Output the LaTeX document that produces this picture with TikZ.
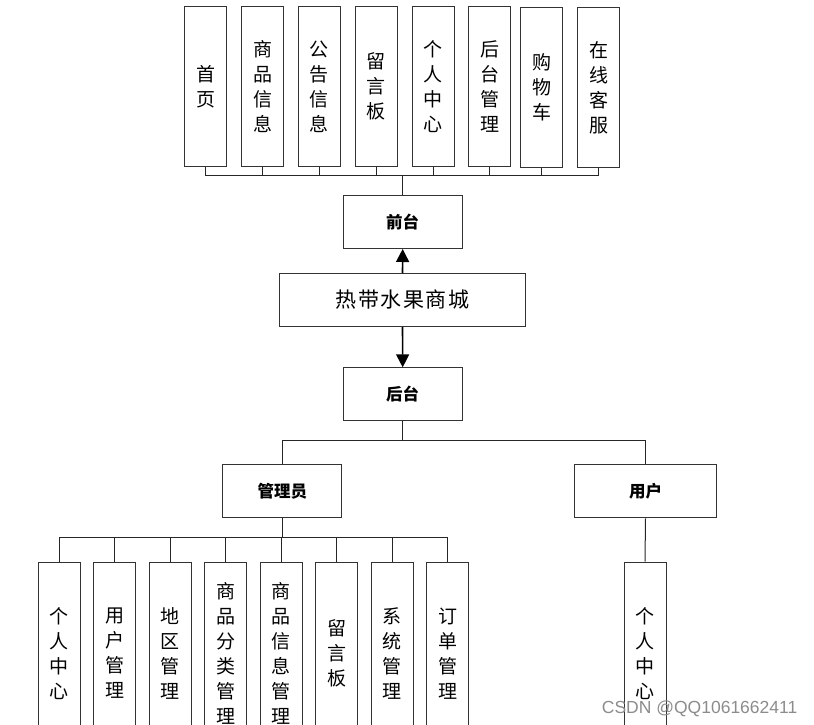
\documentclass[tikz,border=0pt]{standalone}
\usepackage{fontspec}
\setmainfont{Liberation Sans}
\newfontfamily\cjk{Noto Sans CJK SC}
\usetikzlibrary{arrows.meta}
\tikzset{
  base/.style={draw=black!80, line width=1pt, fill=white, inner sep=0pt, font=\cjk},
  vbox/.style={base, minimum width=42pt, minimum height=159pt, align=center,
    font=\cjk\fontsize{19}{25}\selectfont},
  lbox/.style={base, minimum width=42pt, minimum height=183pt, align=center,
    font=\cjk\fontsize{19}{25}\selectfont},
  hbox/.style={base, minimum width=119pt, minimum height=53pt,
    font=\cjk\bfseries\fontsize{16.5}{18}\selectfont},
  conn/.style={draw=black!85, line width=1pt},
  arr/.style={draw=black, line width=1.6pt, -{Triangle[length=13pt,width=13pt]}},
}
\begin{document}
\begin{tikzpicture}[x=1pt,y=-1pt]
\useasboundingbox (0,0) rectangle (814,725);
% top row
\node[vbox] (t1) at (205.7,86.5) {首\\页};
\node[vbox] (t2) at (262.5,86.5) {商\\品\\信\\息};
\node[vbox] (t3) at (319.3,86.5) {公\\告\\信\\息};
\node[vbox] (t4) at (376.2,86.5) {留\\言\\板};
\node[vbox] (t5) at (433.1,86.5) {个\\人\\中\\心};
\node[vbox] (t6) at (489.9,86.5) {后\\台\\管\\理};
\node[vbox] (t7) at (541.7,87.5) {购\\物\\车};
\node[vbox] (t8) at (598.5,87.5) {在\\线\\客\\服};
\coordinate (topbus) at (402.7,175.7);
\node[hbox] (qt) at (402.7,222) {前台};
\node[base, minimum width=246pt, minimum height=53pt, font=\cjk\fontsize{21}{24}\selectfont] (main) at (402.5,300) {热\hspace{1.5pt}带\hspace{1.5pt}水\hspace{1.5pt}果\hspace{1.5pt}商\hspace{1.5pt}城};
\node[hbox] (ht) at (402.7,394.3) {后台};
\coordinate (bbus) at (402.7,440.3);
\node[hbox] (gly) at (282.3,491.3) {管理员};
\node[hbox, minimum width=142pt] (yh) at (645.5,491.3) {用户};
\coordinate (abus) at (282.3,537.7);
% bottom row
\node[lbox] (b1) at (59.3,653.5) {个\\人\\中\\心};
\node[lbox] (b2) at (114.8,653.5) {用\\户\\管\\理};
\node[lbox] (b3) at (170.1,653.5) {地\\区\\管\\理};
\node[lbox] (b4) at (225.5,653.5) {商\\品\\分\\类\\管\\理};
\node[lbox] (b5) at (281,653.5) {商\\品\\信\\息\\管\\理};
\node[lbox] (b6) at (336.5,653.5) {留\\言\\板};
\node[lbox] (b7) at (392,653.5) {系\\统\\管\\理};
\node[lbox] (b8) at (447.5,653.5) {订\\单\\管\\理};
\node[lbox] (u1) at (645,653.5) {个\\人\\中\\心};
% connectors
\foreach \n in {t1,t2,t3,t4,t5,t6,t7,t8} \draw[conn] (\n.south) |- (topbus);
\draw[conn] (qt.north) -- (topbus);
\draw[arr] (main.north) -- (qt.south);
\draw[arr] (main.south) -- (ht.north);
\draw[conn] (ht.south) -- (bbus);
\draw[conn] (bbus) -| (gly.north);
\draw[conn] (bbus) -| (yh.north);
\draw[conn] (gly.south) -- (abus);
\foreach \n in {b1,b2,b3,b4,b5,b6,b7,b8} \draw[conn] (abus) -| (\n.north);
\draw[conn] (yh.south) -- (u1.north);
% watermark
\node[text=black!45, font=\fontsize{17.5}{20}\selectfont, anchor=base west, inner sep=0pt] (wm) at (601.7,713) {CSDN @QQ1061662411};
\end{tikzpicture}
\end{document}
